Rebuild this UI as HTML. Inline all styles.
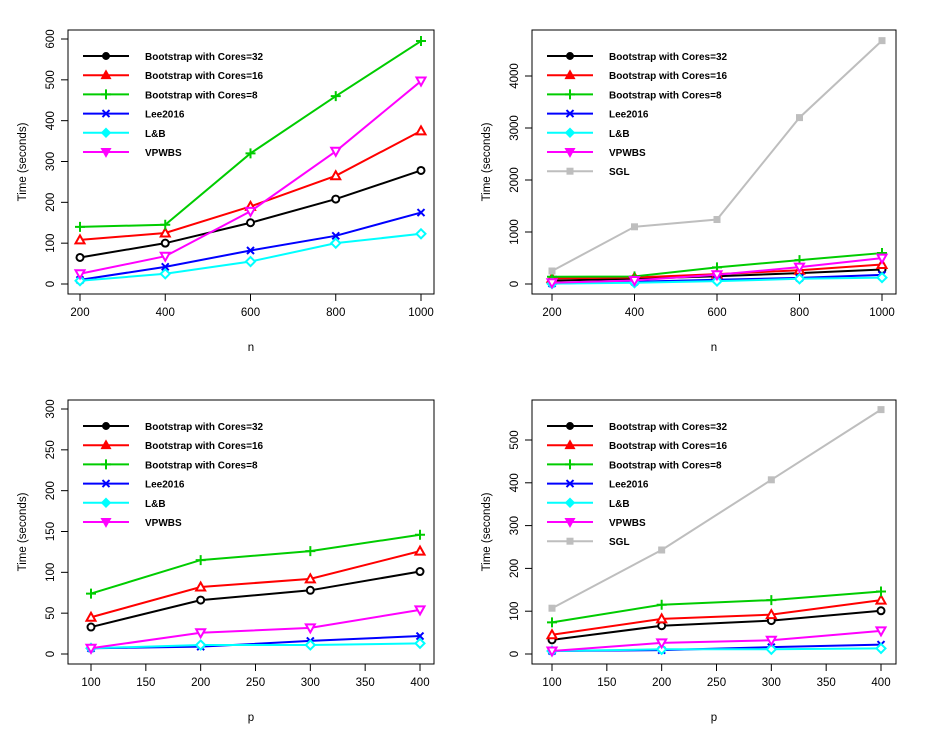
<!DOCTYPE html>
<html><head><meta charset="utf-8"><style>
body{margin:0;background:#fff;}
svg{display:block;font-family:"Liberation Sans",sans-serif;}
</style></head><body>
<svg id="c" width="926" height="741"></svg>
<script>
const nVals=[200,400,600,800,1000];
const pVals=[100,200,300,400];
const nC32=[65,100,150,208,278];
const nC16=[108,125,190,265,375];
const nC8=[140,145,320,460,595];
const nLee=[10,42,82,118,175];
const nLB=[8,25,55,100,123];
const nVP=[25,68,178,325,497];
const nSGL=[250,1100,1240,3200,4680];
const pC32=[33,66,78,101];
const pC16=[45,82,92,126];
const pC8=[74,115,126,146];
const pLee=[7,9,16,22];
const pLB=[7,11,11,13];
const pVP=[7,26,32,54];
const pSGL=[107,243,407,571];
const seriesNames=["Bootstrap with Cores=32","Bootstrap with Cores=16","Bootstrap with Cores=8","Lee2016","L&B","VPWBS","SGL"];
const colors=["#000","#f00","#0c0","#00f","#0ff","#f0f","#bebebe"];
const NS="http://www.w3.org/2000/svg";
const svg=document.getElementById('c');
function mk(tag,at,parent){const e=document.createElementNS(NS,tag);for(const k in at)e.setAttribute(k,at[k]);(parent||svg).appendChild(e);return e;}
function marker(g,i,x,y,legend){
  const c=colors[i],sw=2,s=legend?0.85:1;
  if(i===0){mk('circle',{cx:x,cy:y,r:3.5*s,fill:legend?c:'#fff',stroke:c,'stroke-width':sw},g);}
  else if(i===1){mk('polygon',{points:`${x},${y-4.5*s} ${x-4.5*s},${y+3.5*s} ${x+4.5*s},${y+3.5*s}`,fill:legend?c:'#fff',stroke:c,'stroke-width':sw},g);}
  else if(i===2){mk('path',{d:`M${x-5},${y}H${x+5}M${x},${y-5}V${y+5}`,stroke:c,'stroke-width':sw},g);}
  else if(i===3){mk('path',{d:`M${x-3.5},${y-3.5}L${x+3.5},${y+3.5}M${x-3.5},${y+3.5}L${x+3.5},${y-3.5}`,stroke:c,'stroke-width':sw},g);}
  else if(i===4){mk('polygon',{points:`${x},${y-4.5*s} ${x+4.5*s},${y} ${x},${y+4.5*s} ${x-4.5*s},${y}`,fill:legend?c:'#fff',stroke:c,'stroke-width':sw},g);}
  else if(i===5){mk('polygon',{points:`${x},${y+4.5*s} ${x-4.5*s},${y-3.5*s} ${x+4.5*s},${y-3.5*s}`,fill:legend?c:'#fff',stroke:c,'stroke-width':sw},g);}
  else {mk('rect',{x:x-3.5,y:y-3.5,width:7,height:7,fill:c},g);}
}
function panel(P){
  const g=mk('g',{});
  
  
  const X=v=>P.x0+(v-P.xmin)/(P.xmax-P.xmin)*(P.x1-P.x0);
  const Y=v=>P.y0+(v-P.ymin)/(P.ymax-P.ymin)*(P.y1-P.y0);
  mk('rect',{x:P.bx0,y:P.by0,width:P.bx1-P.bx0,height:P.by1-P.by0,fill:'none',stroke:'#000','stroke-width':1},g);
  const xa=mk('g',{},g);
  
  
  mk('line',{x1:X(P.xt[0]),x2:X(P.xt[P.xt.length-1]),y1:P.by1,y2:P.by1,stroke:'#000'},xa);
  P.xt.forEach(t=>{mk('line',{x1:X(t),x2:X(t),y1:P.by1,y2:P.by1+7,stroke:'#000'},xa);
    const tx=mk('text',{x:X(t),y:P.by1+22,'text-anchor':'middle','font-size':11.5},xa);tx.textContent=t;});
  const xl=mk('text',{x:(P.bx0+P.bx1)/2,y:P.by1+57,'text-anchor':'middle','font-size':11.5},g);xl.textContent=P.xlab;
  
  
  const ya=mk('g',{},g);
  
  
  mk('line',{x1:P.bx0,x2:P.bx0,y1:Y(P.yt[0]),y2:Y(P.yt[P.yt.length-1]),stroke:'#000'},ya);
  P.yt.forEach(t=>{mk('line',{x1:P.bx0,x2:P.bx0-7,y1:Y(t),y2:Y(t),stroke:'#000'},ya);
    const tx=mk('text',{x:P.bx0-14,y:Y(t),'text-anchor':'middle','font-size':11.5,transform:`rotate(-90 ${P.bx0-14} ${Y(t)})`},ya);tx.textContent=t;});
  const cy=(P.by0+P.by1)/2, cx=P.bx0-42;
  const yl=mk('text',{x:cx,y:cy,'text-anchor':'middle','font-size':11.5,transform:`rotate(-90 ${cx} ${cy})`},g);yl.textContent='Time (seconds)';
  
  
  P.series.forEach((s,i)=>{
    const sg=mk('g',{},g);
    
    
    mk('polyline',{points:s.map((v,j)=>X(P.xs[j])+','+Y(v)).join(' '),fill:'none',stroke:colors[i],'stroke-width':2},sg);
    s.forEach((v,j)=>marker(sg,i,X(P.xs[j]),Y(v),false));
  });
  const lg=mk('g',{},g);
  
  
  P.series.forEach((s,i)=>{
    const ly=P.by0+26+i*19.2;
    const le=mk('g',{},lg);
    
    
    mk('line',{x1:P.bx0+15,x2:P.bx0+61,y1:ly,y2:ly,stroke:colors[i],'stroke-width':2},le);
    marker(le,i,P.bx0+38,ly,true);
    const t=mk('text',{x:P.bx0+77,y:ly+4,'font-size':10,'font-weight':'bold'},le);t.textContent=seriesNames[i];
  });
}
panel({name:'panel-n-top-left',bx0:68,bx1:434,by0:30,by1:294,x0:80,x1:421,xmin:200,xmax:1000,y0:284,y1:39,ymin:0,ymax:600,
  xt:[200,400,600,800,1000],yt:[0,100,200,300,400,500,600],xs:nVals,xlab:'n',series:[nC32,nC16,nC8,nLee,nLB,nVP]});
panel({name:'panel-n-top-right',bx0:532,bx1:896,by0:30,by1:294,x0:552,x1:882,xmin:200,xmax:1000,y0:284,y1:76,ymin:0,ymax:4000,
  xt:[200,400,600,800,1000],yt:[0,1000,2000,3000,4000],xs:nVals,xlab:'n',series:[nC32,nC16,nC8,nLee,nLB,nVP,nSGL]});
panel({name:'panel-p-bottom-left',bx0:68,bx1:434,by0:400,by1:664,x0:91,x1:420,xmin:100,xmax:400,y0:654,y1:409,ymin:0,ymax:300,
  xt:[100,150,200,250,300,350,400],yt:[0,50,100,150,200,250,300],xs:pVals,xlab:'p',series:[pC32,pC16,pC8,pLee,pLB,pVP]});
panel({name:'panel-p-bottom-right',bx0:532,bx1:896,by0:400,by1:664,x0:552,x1:881,xmin:100,xmax:400,y0:654,y1:440,ymin:0,ymax:500,
  xt:[100,150,200,250,300,350,400],yt:[0,100,200,300,400,500],xs:pVals,xlab:'p',series:[pC32,pC16,pC8,pLee,pLB,pVP,pSGL]});
</script>
</body></html>
